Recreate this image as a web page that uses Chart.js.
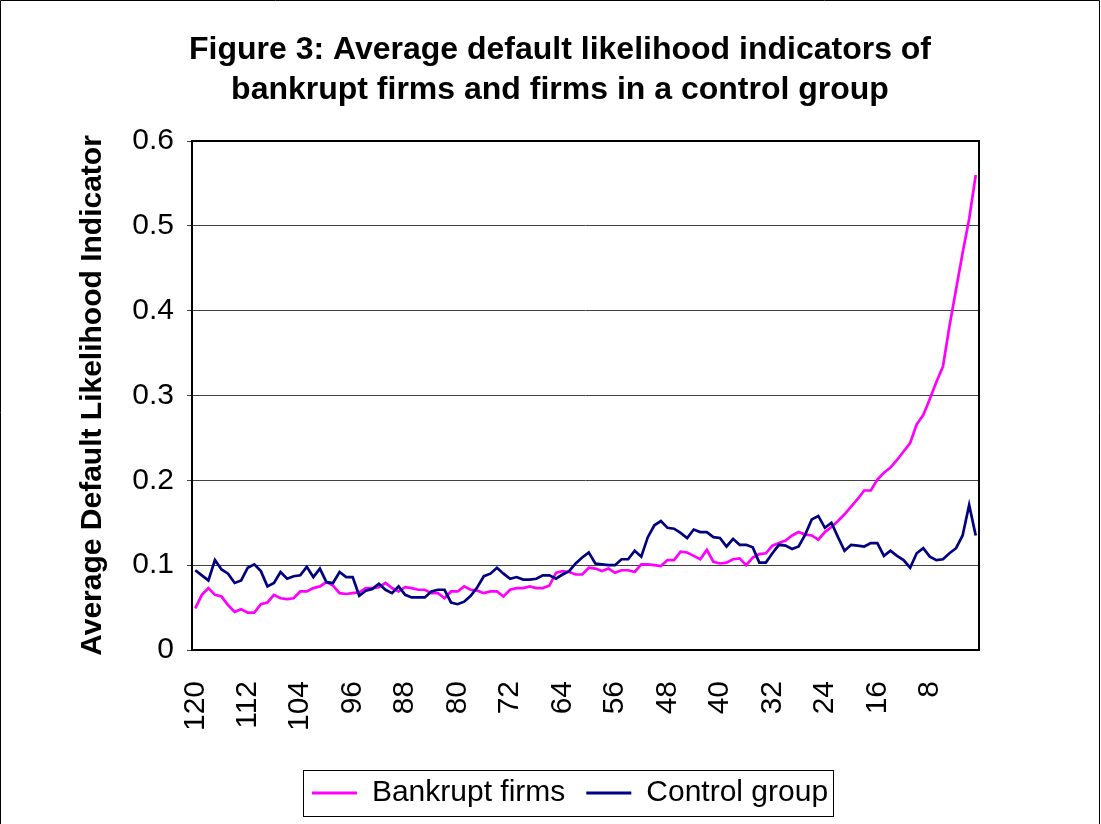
<!DOCTYPE html>
<html><head><meta charset="utf-8">
<script src="https://cdn.jsdelivr.net/npm/chart.js@4.4.1/dist/chart.umd.min.js"></script>
<style>html,body{margin:0;padding:0;background:#fff;} canvas{display:block;}</style>
</head><body>
<canvas id="c" width="1101" height="824"></canvas>
<script>
const titleLines = ['Figure 3: Average default likelihood indicators of', 'bankrupt firms and firms in a control group'];
const yAxisTitle = 'Average Default Likelihood Indicator';
const seriesNames = ['Bankrupt firms', 'Control group'];

const months = [120,119,118,117,116,115,114,113,112,111,110,109,108,107,106,105,104,103,102,101,
100,99,98,97,96,95,94,93,92,91,90,89,88,87,86,85,84,83,82,81,
80,79,78,77,76,75,74,73,72,71,70,69,68,67,66,65,64,63,62,61,
60,59,58,57,56,55,54,53,52,51,50,49,48,47,46,45,44,43,42,41,
40,39,38,37,36,35,34,33,32,31,30,29,28,27,26,25,24,23,22,21,
20,19,18,17,16,15,14,13,12,11,10,9,8,7,6,5,4,3,2,1];

const xTickLabels = [120,112,104,96,88,80,72,64,56,48,40,32,24,16,8];
const yTickValues = [0,0.1,0.2,0.3,0.4,0.5,0.6];

const bankrupt = [0.049,0.065,0.073,0.065,0.063,0.053,0.045,0.048,0.044,0.044,
0.054,0.056,0.065,0.061,0.060,0.061,0.069,0.069,0.073,0.075,
0.080,0.076,0.067,0.066,0.067,0.068,0.073,0.073,0.074,0.079,
0.073,0.069,0.074,0.073,0.071,0.071,0.067,0.067,0.061,0.069,
0.069,0.075,0.071,0.070,0.067,0.069,0.069,0.063,0.071,0.073,
0.073,0.075,0.073,0.073,0.076,0.091,0.093,0.092,0.089,0.089,
0.097,0.096,0.093,0.096,0.091,0.094,0.094,0.092,0.101,0.101,
0.100,0.099,0.106,0.106,0.116,0.115,0.111,0.107,0.118,0.104,
0.102,0.103,0.107,0.108,0.100,0.109,0.113,0.114,0.123,0.126,
0.129,0.135,0.139,0.136,0.135,0.130,0.139,0.145,0.152,0.160,
0.169,0.178,0.188,0.188,0.201,0.209,0.215,0.224,0.234,0.244,
0.266,0.277,0.296,0.316,0.334,0.382,0.425,0.468,0.508,0.560];

const control = [0.094,0.088,0.082,0.106,0.095,0.090,0.079,0.082,0.097,0.101,
0.093,0.075,0.079,0.092,0.084,0.087,0.088,0.098,0.086,0.096,
0.080,0.079,0.092,0.086,0.086,0.064,0.070,0.072,0.078,0.071,
0.067,0.075,0.065,0.062,0.062,0.062,0.069,0.071,0.071,0.056,
0.054,0.057,0.064,0.074,0.087,0.090,0.097,0.090,0.084,0.086,
0.083,0.083,0.084,0.088,0.088,0.084,0.089,0.093,0.102,0.109,
0.115,0.102,0.101,0.100,0.100,0.107,0.107,0.117,0.110,0.133,
0.147,0.152,0.144,0.143,0.138,0.132,0.142,0.139,0.139,0.133,
0.132,0.122,0.131,0.124,0.124,0.121,0.103,0.103,0.114,0.124,
0.123,0.119,0.122,0.136,0.154,0.158,0.144,0.150,0.133,0.117,
0.124,0.123,0.122,0.126,0.126,0.111,0.117,0.111,0.106,0.097,
0.114,0.120,0.110,0.106,0.107,0.114,0.120,0.135,0.171,0.135];

const FONT = "'Liberation Sans', Arial, Helvetica, sans-serif";
Chart.defaults.font.family = FONT;
Chart.defaults.color = '#000';

const LEGEND_SHIFT = 10;

const decor = {
  id: 'decor',
  afterLayout(chart) {
    // widen the y-axis box leftwards so its tick labels and title are not clipped
    const ys = chart.scales.y;
    if (ys) { ys.left = 0; ys.width = ys.right; }
  },
  afterUpdate(chart) {
    const lg = chart.legend;
    if (!lg) return;
    lg.left += LEGEND_SHIFT; lg.right += LEGEND_SHIFT;
    (lg.legendHitBoxes || []).forEach(h => { h.left += LEGEND_SHIFT; });
  },
  afterDraw(chart) {
    const ctx = chart.ctx;
    const ca = chart.chartArea;
    ctx.save();
    ctx.strokeStyle = '#000';
    ctx.lineWidth = 2;
    ctx.strokeRect(ca.left, ca.top, ca.right - ca.left, ca.bottom - ca.top);
    ctx.lineWidth = 1;
    ctx.beginPath();
    ctx.moveTo(0.5, 830); ctx.lineTo(0.5, 0.5); ctx.lineTo(1099.5, 0.5); ctx.lineTo(1099.5, 830);
    ctx.stroke();
    const hb = chart.legend && chart.legend.legendHitBoxes;
    if (hb && hb.length) {
      const first = hb[0], last = hb[hb.length - 1];
      const l = Math.round(first.left - 9) + 0.5;
      const r = Math.round(last.left + last.width + 5) + 0.5;
      const t = Math.round(first.top - 8) + 0.5;
      const b = Math.round(first.top + first.height + 8) + 0.5;
      ctx.strokeRect(l, t, r - l, b - t);
    }
    ctx.restore();
  }
};

new Chart(document.getElementById('c'), {
  type: 'line',
  data: {
    labels: months,
    datasets: [
      { label: seriesNames[0], data: bankrupt, borderColor: '#FF00FF', backgroundColor: '#FF00FF',
        borderWidth: 2.7, pointRadius: 0, pointHoverRadius: 0, tension: 0, fill: false, order: 1 },
      { label: seriesNames[1], data: control, borderColor: '#000080', backgroundColor: '#000080',
        borderWidth: 2.7, pointRadius: 0, pointHoverRadius: 0, tension: 0, fill: false, order: 0 }
    ]
  },
  options: {
    responsive: false,
    animation: false,
    devicePixelRatio: 1,
    events: [],
    layout: { padding: { left: 141, right: 122, top: 0, bottom: 6 } },
    plugins: {
      title: {
        display: true, text: titleLines, color: '#000',
        font: { size: 32, weight: 'bold', lineHeight: 1.25 },
        padding: { top: 30, bottom: 31 }
      },
      legend: {
        display: true, position: 'bottom',
        labels: {
          boxWidth: 45, boxHeight: 3, padding: 21, color: '#000',
          font: { size: 30 },
          generateLabels(chart) {
            return chart.data.datasets.map((ds, i) => ({
              text: ds.label, fillStyle: ds.borderColor, strokeStyle: ds.borderColor,
              lineWidth: 0, hidden: false, datasetIndex: i, fontColor: '#000'
            }));
          }
        }
      },
      tooltip: { enabled: false }
    },
    scales: {
      x: {
        type: 'category', offset: true,
        grid: { display: false },
        border: { display: false },
        ticks: {
          autoSkip: false, minRotation: 90, maxRotation: 90, padding: 23,
          font: { size: 30 }, color: '#000',
          callback(val) {
            const m = Number(this.getLabelForValue(val));
            return xTickLabels.includes(m) ? String(m) : '';
          }
        },
        afterFit(scale) { scale.height = 107; }
      },
      y: {
        min: 0, max: 0.6,
        afterBuildTicks(scale) { scale.ticks = yTickValues.map(v => ({ value: v })); },
        ticks: {
          font: { size: 30 }, color: '#000', padding: 13,
          callback(v) { return String(Math.round(v * 10) / 10); }
        },
        grid: { color: '#404040', lineWidth: 1, tickLength: 5, drawTicks: true },
        border: { display: false },
        title: {
          display: true, text: yAxisTitle, color: '#000',
          font: { size: 30, weight: 'bold', lineHeight: 1.2 },
          padding: { top: 75, bottom: 0 }
        },
        afterFit(scale) { scale.width = 51; }
      }
    }
  },
  plugins: [decor]
});
</script>
</body></html>
